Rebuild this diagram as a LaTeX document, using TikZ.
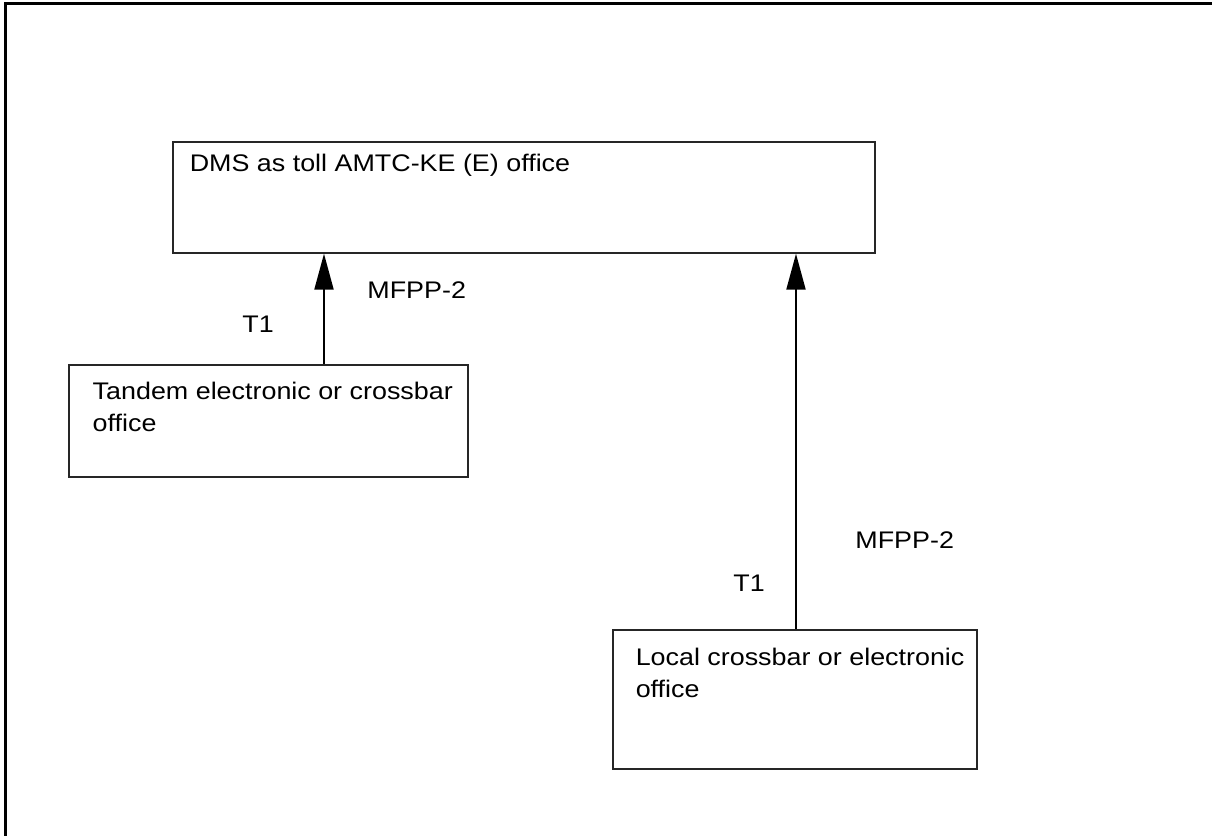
\documentclass[tikz,border=0pt]{standalone}
\usepackage{fontspec}
\setmainfont[FakeStretch=1.12]{Liberation Sans}
\usetikzlibrary{arrows.meta,positioning,calc}

\begin{document}
\begin{tikzpicture}[x=0.5pt,y=-0.5pt,
  office/.style={draw=black!85,line width=0.65pt,inner sep=0pt},
  txt/.style={inner sep=0pt,align=left,font=\fontsize{12pt}{16pt}\selectfont},
  link/.style={line width=1pt,-{Triangle[length=18pt,width=9.5pt]}}]
  \useasboundingbox (0,0) rectangle (1212,836);
  \draw[line width=1.5pt] (5,836)--(5,3)--(1212,3);
  % offices
  \node (dms) [office,minimum width=351pt,minimum height=55.5pt] at (524,197.5) {};
  \node (tandem) [office,minimum width=199.5pt,minimum height=56pt] at (268.5,421) {};
  \node (local) [office,minimum width=182pt,minimum height=69.5pt] at (795,699.5) {};
  % base of the last line
  \node (dmstext) [txt,anchor=base west] at ($(dms.north west)+(17,30)$) {DMS as toll AMTC-KE (E) office};
  \node (tandemtext) [txt,anchor=base west] at ($(tandem.north west)+(24,67)$) {Tandem electronic or crossbar\\office};
  \node (localtext) [txt,anchor=base west] at ($(local.north west)+(23,68)$) {Local crossbar or electronic\\office};
  % trunks
  \draw[link] ([xshift=27.75pt]tandem.north) -- ([xshift=27.75pt]tandem.north |- dms.south);
  \draw[link] ([xshift=0.5pt]local.north) -- ([xshift=0.5pt]local.north |- dms.south);
  \node (sig1) [txt,anchor=base west] at (367,298) {MFPP-2};
  \node (tr1) [txt,anchor=base west] at (242,332) {T1};
  \node (sig2) [txt,anchor=base west] at (855,548) {MFPP-2};
  \node (tr2) [txt,anchor=base west] at (733,591) {T1};
\end{tikzpicture}
\end{document}
